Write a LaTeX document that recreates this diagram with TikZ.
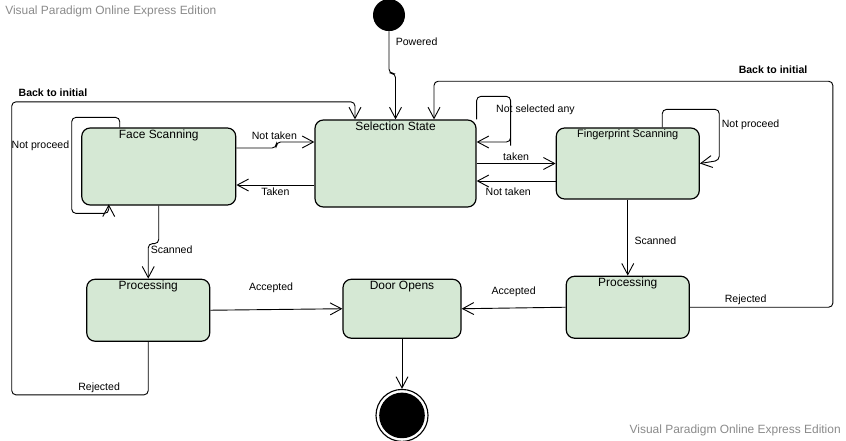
\documentclass[tikz,border=0pt]{standalone}
\usepackage{fontspec}
\setmainfont{Liberation Sans}
\usetikzlibrary{positioning, arrows.meta}
\definecolor{stategreen}{HTML}{D5E8D4}
\definecolor{markgray}{HTML}{8A8A8A}
\tikzset{
>={Straight Barb[length=8pt,width=8.5pt]}, % open arrow heads
statebox/.style={draw, line width=0.85pt, rounded corners=6pt, fill=stategreen}, % every state box
boxtitle/.style={anchor=north, inner sep=1.5pt, font=\fontsize{8.5}{10}\selectfont}, % title at the top of a box
trans/.style={->, line width=0.65pt, rounded corners=3pt},
lbl/.style={font=\fontsize{7.5}{9}\selectfont, inner sep=1.5pt},
backlbl/.style={lbl, font=\fontsize{7.5}{9}\selectfont\bfseries},
wmark/.style={text=markgray, font=\fontsize{8.5}{10}\selectfont, inner sep=0pt},
}
\begin{document}
\begin{tikzpicture}[x=0.025cm, y=-0.025cm]
        \useasboundingbox (0,0) rectangle (846,440);
        \node[statebox, minimum width=4.025cm, minimum height=2.175cm, label={[boxtitle]north:Selection State}] (sel) at (395.5,163.5) {};
        \node[statebox, minimum width=3.85cm, minimum height=1.925cm, left=1.95cm of sel, yshift=-0.075cm, label={[boxtitle]north:Face Scanning}] (face) {};
        \node[statebox, minimum width=3.575cm, minimum height=1.775cm, right=1.975cm of sel, label={[boxtitle, font=\fontsize{7.8}{9}\selectfont]north:Fingerprint Scanning}] (finger) {};
        \node[statebox, minimum width=3.075cm, minimum height=1.55cm, below=1.825cm of face, xshift=-0.2625cm, label={[boxtitle]north:Processing}] (procL) {};
        \node[statebox, minimum width=2.95cm, minimum height=1.475cm, below=1.775cm of sel, xshift=0.1625cm, label={[boxtitle]north:Door Opens}] (door) {};
        \node[statebox, minimum width=3.075cm, minimum height=1.55cm, below=1.9cm of finger, label={[boxtitle]north:Processing}] (procR) {};
        \node[circle, fill=black, minimum size=0.8cm, inner sep=0pt, above=2.2cm of sel, xshift=-0.1625cm] (init) {};
        \node[circle, draw, line width=0.8pt, minimum size=1.3cm, inner sep=0pt, below=1.25cm of door,
              path picture={\fill[black] (path picture bounding box.center) circle (0.57cm);}] (final) {};
        \node[wmark, anchor=west] (wmtop) at (5,11) {Visual Paradigm Online Express Edition};
        \node[wmark, anchor=east] (wmbot) at (841,430) {Visual Paradigm Online Express Edition};
        \coordinate (taken) at ([yshift=-0.5375cm]sel.west);
        \coordinate (ntaken) at ([yshift=-0.4375cm]finger.west);

        \draw[trans] (init.south) -- node[lbl, right=3pt, pos=0.24]{Powered} ++(0,42) -| (sel.north);
        %Selection arrows
        \draw[trans] ([yshift=0.4625cm]face.east) -- node[lbl, above=4pt, pos=0.95]{Not taken} ++(40,0) |- ([yshift=0.5375cm]sel.west);
        \draw[trans] (taken) -- node[lbl, below]{Taken} (taken -| face.east);
        \draw[trans] (sel.east) -- node[lbl, above]{taken} (finger.west);
        \draw[trans] (ntaken) -- node[lbl, below=3pt, pos=0.6]{Not taken} (ntaken -| sel.east);
        %Loops
        \draw[trans] ([xshift=-0.975cm]face.north) -- ++(0,-10) -- ++(-48,0) -- node[lbl, left, pos=0.3]{Not proceed} ++(0,96) -- ++(37,0) -- ++(0,-9);
        \draw[trans] (sel.north east) -- ++(0,-23) -- ++(34,0) -- node[lbl, anchor=west, xshift=-0.425cm, pos=0.29]{Not selected any} ++(0,45) |- ([yshift=0.5375cm]sel.east);
        \draw[trans] ([xshift=0.8625cm]finger.north) -- ++(0,-18) -- ++(57,0) -- node[lbl, right, pos=0.31]{Not proceed} ++(0,51) -- (finger.east);
        %Scanning and processing
        \draw[trans] (face.south) -- ++(0,38) -| node[lbl, right, pos=0.59]{Scanned} (procL.north);
        \draw[trans] (finger.south) -- node[lbl, right=3pt, pos=0.54]{Scanned} (procR.north);
        \draw[trans] (procL.east) -- node[lbl, above=10pt, pos=0.46]{Accepted} (door.west);
        \draw[trans] (procR.west) -- node[lbl, above=6pt]{Accepted} (door.east);
        \draw[trans] (door.south) -- (final.north);
        %Back to initial
        \draw[trans] (procL.south) -- ++(0,53) -- node[lbl, above, pos=0.36]{Rejected} ++(-136.5,0) -- ++(0,-293) -| node[backlbl, above=2pt, pos=0.06]{Back to initial} ([xshift=-1.0125cm]sel.north);
        \draw[trans] (procR.east) -- node[lbl, above, pos=0.39]{Rejected} ++(143,0) -- ++(0,-226) -| node[backlbl, above=3.5pt, pos=0.075]{Back to initial} ([xshift=0.9625cm]sel.north);
\end{tikzpicture}
\end{document}
